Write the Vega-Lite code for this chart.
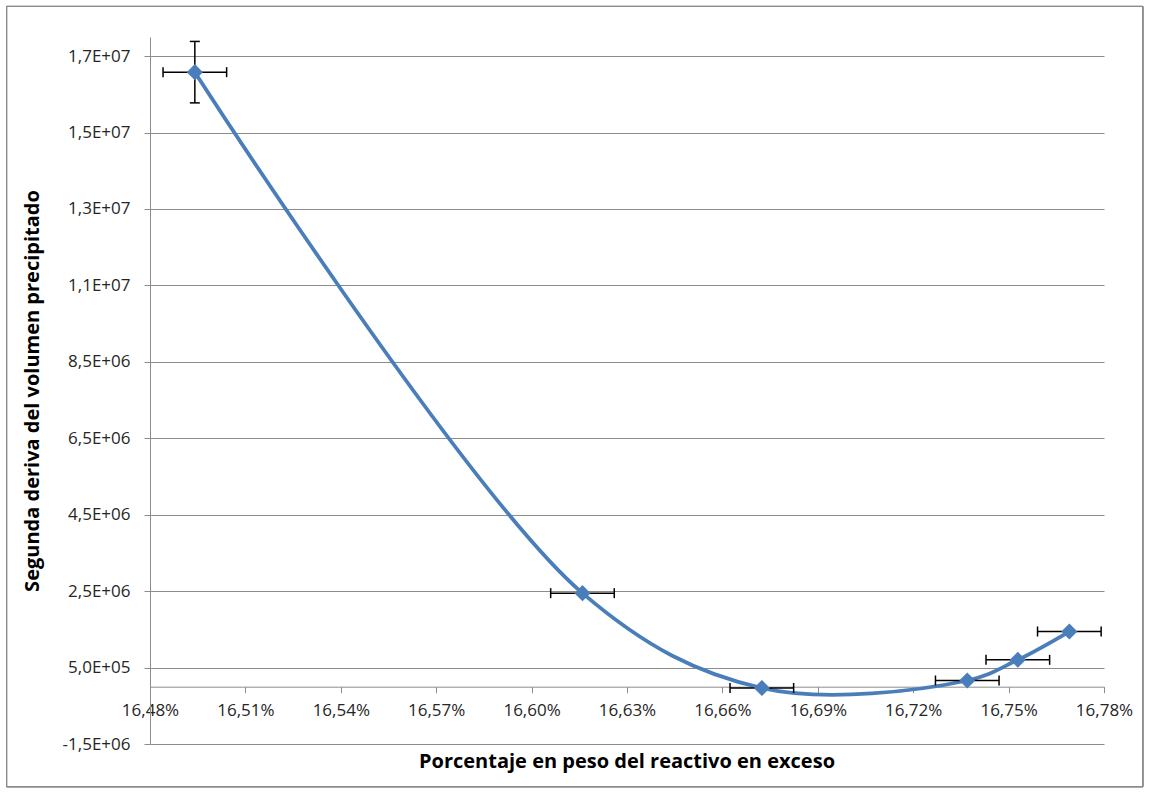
{
  "$schema": "https://vega.github.io/schema/vega-lite/v6.json",
  "width": 954,
  "height": 707,
  "autosize": {"type": "none"},
  "padding": {"left": 150, "top": 37, "right": 48, "bottom": 50},
  "background": "white",
  "config": {
    "view": {"stroke": null},
    "font": "Open Sans",
    "axis": {"labelFont": "Open Sans", "titleFont": "Open Sans"}
  },
  "title": {
    "text": "Porcentaje en peso del reactivo en exceso",
    "orient": "bottom",
    "anchor": "middle",
    "frame": "group",
    "font": "Open Sans",
    "fontSize": 20,
    "fontWeight": "bold",
    "color": "#000000",
    "offset": -35
  },
  "data": {
    "values": [
      {"p": 16.4941, "p_lo": 16.4841, "p_hi": 16.5041, "d": 16080000, "d_lo": 15276000, "d_hi": 16884000},
      {"p": 16.6160, "p_lo": 16.6060, "p_hi": 16.6260, "d": 2447000},
      {"p": 16.6724, "p_lo": 16.6624, "p_hi": 16.6824, "d": -35000},
      {"p": 16.7370, "p_lo": 16.7270, "p_hi": 16.7470, "d": 162000},
      {"p": 16.7529, "p_lo": 16.7429, "p_hi": 16.7629, "d": 703000},
      {"p": 16.7691, "p_lo": 16.7591, "p_hi": 16.7791, "d": 1443000}
    ]
  },
  "encoding": {
    "x": {
      "field": "p",
      "type": "quantitative",
      "scale": {"domain": [16.48, 16.78], "nice": false, "zero": false},
      "axis": {
        "title": null,
        "offset": {"expr": "scale('y', 0) - height"},
        "values": [16.48, 16.51, 16.54, 16.57, 16.60, 16.63, 16.66, 16.69, 16.72, 16.75, 16.78],
        "labelExpr": "replace(format(datum.value, '.2f'), '.', ',') + '%'",
        "labelFlush": false,
        "labelOverlap": false,
        "labelBound": false,
        "grid": false,
        "domainColor": "#8c8c8c",
        "tickColor": "#8c8c8c",
        "tickSize": 6,
        "labelFontSize": 17,
        "labelColor": "#262626",
        "labelPadding": 10
      }
    },
    "y": {
      "field": "d",
      "type": "quantitative",
      "scale": {"domain": [-1500000, 17000000], "nice": false, "zero": false},
      "axis": {
        "title": "Segunda deriva del volumen precipitado",
        "values": [-1500000, 500000, 2500000, 4500000, 6500000, 8500000, 10500000, 12500000, 14500000, 16500000],
        "labelExpr": "replace(replace(replace(format(datum.value, '.1e'), 'e+', 'E+0'), '.', ','), '\u2212', '-')",
        "labelFlush": false,
        "labelOverlap": false,
        "grid": true,
        "gridColor": "#8c8c8c",
        "domainColor": "#8c8c8c",
        "tickColor": "#8c8c8c",
        "tickSize": 6,
        "labelFontSize": 17,
        "labelColor": "#262626",
        "labelPadding": 14,
        "titleFontSize": 20,
        "titleFontWeight": "bold",
        "titleColor": "#000000",
        "titlePadding": 20
      }
    }
  },
  "layer": [
    {
      "mark": {"type": "rect", "fill": null, "stroke": "#8c8c8c", "strokeWidth": 1, "clip": false},
      "encoding": {
        "x": {"datum": 16.4349, "type": "quantitative"},
        "x2": {"datum": 16.7922},
        "y": {"datum": 17800000, "type": "quantitative"},
        "y2": {"datum": -2617000}
      }
    },
    {
      "mark": {"type": "line", "interpolate": "catmull-rom", "color": "#4A7EBB", "strokeWidth": 3.75},
      "encoding": {"order": {"field": "p", "type": "quantitative"}}
    },
    {
      "mark": {"type": "rule", "color": "#000000", "strokeWidth": 1.5},
      "encoding": {"x": {"field": "p_lo", "type": "quantitative"}, "x2": {"field": "p_hi"}}
    },
    {
      "mark": {"type": "tick", "orient": "vertical", "color": "#000000", "thickness": 1.5, "size": 10, "opacity": 1},
      "encoding": {"x": {"field": "p_lo", "type": "quantitative"}}
    },
    {
      "mark": {"type": "tick", "orient": "vertical", "color": "#000000", "thickness": 1.5, "size": 10, "opacity": 1},
      "encoding": {"x": {"field": "p_hi", "type": "quantitative"}}
    },
    {
      "transform": [{"filter": "isValid(datum.d_lo)"}],
      "layer": [
        {
          "mark": {"type": "rule", "color": "#000000", "strokeWidth": 1.5},
          "encoding": {"y": {"field": "d_lo", "type": "quantitative"}, "y2": {"field": "d_hi"}}
        },
        {
          "mark": {"type": "tick", "orient": "horizontal", "color": "#000000", "thickness": 1.5, "size": 10, "opacity": 1},
          "encoding": {"y": {"field": "d_lo", "type": "quantitative"}}
        },
        {
          "mark": {"type": "tick", "orient": "horizontal", "color": "#000000", "thickness": 1.5, "size": 10, "opacity": 1},
          "encoding": {"y": {"field": "d_hi", "type": "quantitative"}}
        }
      ]
    },
    {
      "mark": {"type": "point", "shape": "diamond", "filled": true, "size": 260, "color": "#4A7EBB", "opacity": 1}
    }
  ]
}
